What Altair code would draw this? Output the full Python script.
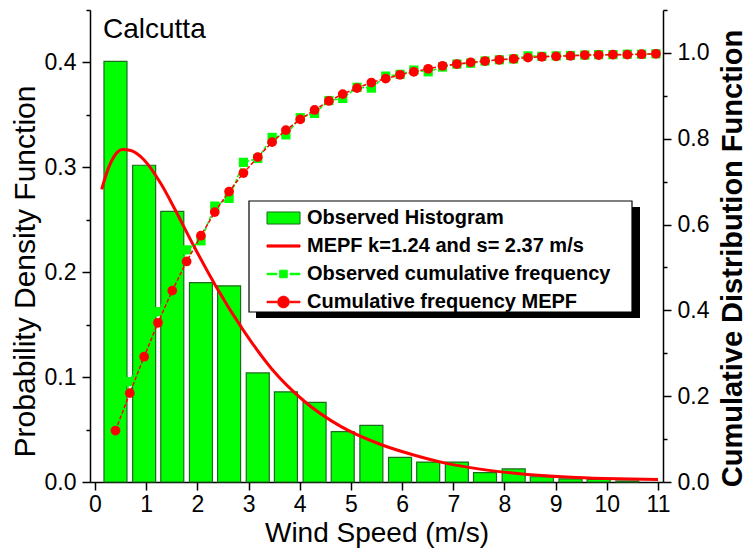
import altair as alt
import pandas as pd

# Observed wind-speed histogram (bin centres in m/s, probability density)
bin_centre = [0.40, 0.96, 1.51, 2.07, 2.62, 3.18, 3.73, 4.29, 4.84, 5.40,
              5.96, 6.51, 7.07, 7.62, 8.18, 8.73, 9.29, 9.84, 10.40]
density = [0.401, 0.302, 0.258, 0.190, 0.187, 0.104, 0.086, 0.076, 0.048, 0.054,
           0.0235, 0.019, 0.019, 0.009, 0.0125, 0.005, 0.003, 0.0025, 0.001]

# Fitted MEPF density curve
pdf_speed = [0.13, 0.26, 0.38, 0.54, 0.70, 0.96, 1.28, 1.54, 1.92, 2.37, 2.88,
             3.45, 4.09, 4.80, 5.57, 6.21, 6.85, 7.49, 8.45, 9.40, 10.20, 11.00]
pdf_value = [0.279, 0.299, 0.311, 0.317, 0.316, 0.307, 0.285, 0.262, 0.226, 0.186, 0.146,
             0.108, 0.077, 0.053, 0.036, 0.026, 0.018, 0.0125, 0.0072, 0.0043, 0.0031, 0.0025]

# Cumulative distribution: observed frequency and MEPF
cdf_speed = [0.40, 0.68, 0.96, 1.23, 1.51, 1.79, 2.07, 2.34, 2.62, 2.90,
             3.18, 3.46, 3.73, 4.01, 4.29, 4.57, 4.84, 5.12, 5.40, 5.68,
             5.96, 6.23, 6.51, 6.79, 7.07, 7.34, 7.62, 7.90, 8.18, 8.46,
             8.73, 9.01, 9.29, 9.57, 9.84, 10.12, 10.40, 10.68, 10.96]
cdf_observed = [0.120, 0.234, 0.310, 0.397, 0.460, 0.541, 0.562, 0.643, 0.661, 0.745,
                0.754, 0.803, 0.809, 0.849, 0.859, 0.889, 0.894, 0.920, 0.918, 0.946,
                0.950, 0.960, 0.956, 0.967, 0.974, 0.976, 0.981, 0.984, 0.986, 0.993,
                0.992, 0.993, 0.994, 0.995, 0.996, 0.996, 0.997, 0.997, 0.998]
cdf_mepf = [0.120, 0.207, 0.292, 0.371, 0.446, 0.514, 0.574, 0.629, 0.677, 0.720,
            0.757, 0.792, 0.820, 0.845, 0.867, 0.888, 0.904, 0.918, 0.931, 0.940,
            0.949, 0.956, 0.963, 0.970, 0.974, 0.978, 0.981, 0.984, 0.986, 0.989,
            0.991, 0.992, 0.993, 0.995, 0.995, 0.996, 0.996, 0.997, 0.998]

# Axis tick positions (majors labelled, halves as minor ticks)
x_ticks = [0, 0.5, 1, 1.5, 2, 2.5, 3, 3.5, 4, 4.5, 5, 5.5, 6, 6.5, 7, 7.5, 8, 8.5,
           9, 9.5, 10, 10.5, 11]
pdf_ticks = [0, 0.05, 0.1, 0.15, 0.2, 0.25, 0.3, 0.35, 0.4, 0.45]
cdf_ticks = [0, 0.1, 0.2, 0.3, 0.4, 0.5, 0.6, 0.7, 0.8, 0.9, 1.0, 1.1]

# Legend entries
series = ["Observed Histogram", "MEPF k=1.24 and s= 2.37 m/s",
          "Observed cumulative frequency", "\u00a0Cumulative frequency MEPF"]

FONT = "Liberation Sans"
GREEN = "#00ff00"
RED = "#ff0000"
BAR_EDGE = "#1d6b1d"

hist = pd.DataFrame({"speed": bin_centre, "density": density})
pdf = pd.DataFrame({"speed": pdf_speed, "pdf": pdf_value})
cdf = pd.DataFrame({"speed": cdf_speed, "observed": cdf_observed, "mepf": cdf_mepf})
legend_df = pd.DataFrame({"series": series})
one = pd.DataFrame({"k": [0]})

x_scale = alt.Scale(domain=[0, 11], nice=False, zero=False)


def tick_size(step_mult):
    return {"condition": {"test": f"round(datum.value*{step_mult}) % 2 == 0", "value": 8},
            "value": 4}


common_axis = dict(grid=False, domainColor="black", domainWidth=1.5, tickColor="black",
                   tickWidth=1.5, labelFont=FONT, labelFontSize=23, labelColor="black",
                   titleFont=FONT, titleColor="black", labelOverlap=False, labelFlush=False)

x_axis = alt.Axis(values=x_ticks, title="Wind Speed (m/s)",
                  labelExpr="round(datum.value*2) % 2 == 0 ? format(datum.value, 'd') : ''",
                  tickSize=tick_size(2), labelPadding=3, titleFontSize=28,
                  titleFontWeight="normal", titleY=59, titleBaseline="alphabetic",
                  **common_axis)

left_axis = alt.Axis(values=pdf_ticks, title="Probability Density Function",
                     labelExpr="round(datum.value*20) % 2 == 0 ? format(datum.value, '.1f') : ''",
                     tickSize=tick_size(20), labelPadding=6, titleFontSize=30,
                     titleFontWeight="normal", titleAngle=270, titleX=-65, titleY=261,
                     titleBaseline="middle", titleAlign="center", **common_axis)

right_axis = alt.Axis(values=cdf_ticks, orient="right", title="Cumulative Distribution Function",
                      labelExpr="round(datum.value*10) % 2 == 0 ? format(datum.value, '.1f') : ''",
                      tickSize=tick_size(10), labelPadding=6, titleFontSize=29,
                      titleFontWeight="bold", titleAngle=270, titleX=69, titleY=248,
                      titleBaseline="middle", titleAlign="center", **common_axis)

bars = alt.Chart(hist).mark_bar(size=23, fill=GREEN, stroke=BAR_EDGE, strokeWidth=1.2).encode(
    x=alt.X("speed:Q", scale=x_scale, axis=x_axis),
    y=alt.Y("density:Q", scale=alt.Scale(domain=[0, 0.45], nice=False), axis=left_axis),
)

pdf_line = alt.Chart(pdf).mark_line(color=RED, strokeWidth=3, interpolate="monotone").encode(
    x=alt.X("speed:Q", scale=x_scale),
    y=alt.Y("pdf:Q"),
)

left = alt.layer(bars, pdf_line)

cdf_y = alt.Scale(domain=[0, 1.1], nice=False)

obs_line = alt.Chart(cdf).mark_line(color=GREEN, strokeWidth=1.5, strokeDash=[4, 2]).encode(
    x=alt.X("speed:Q", scale=x_scale),
    y=alt.Y("observed:Q", scale=cdf_y, axis=right_axis),
)
obs_pts = alt.Chart(cdf).mark_point(shape="square", filled=True, color=GREEN, size=85,
                                    opacity=1).encode(
    x=alt.X("speed:Q", scale=x_scale),
    y=alt.Y("observed:Q"),
)
mepf_line = alt.Chart(cdf).mark_line(color=RED, strokeWidth=1.5, strokeDash=[4, 2]).encode(
    x=alt.X("speed:Q", scale=x_scale),
    y=alt.Y("mepf:Q"),
)
mepf_pts = alt.Chart(cdf).mark_circle(color=RED, size=95, opacity=1).encode(
    x=alt.X("speed:Q", scale=x_scale),
    y=alt.Y("mepf:Q"),
)

# Legend symbols: custom paths (unit = half the symbol size)
sym_bar = "M-1,-0.67H2.67V0.67H-1Z"
sym_line = "M-1,-0.12H2.67V0.12H-1Z"
sym_obs = "M-1,-0.08H0.1V0.08H-1Z M0.41,-0.42H1.25V0.42H0.41Z M1.56,-0.08H2.67V0.08H1.56Z"
sym_mepf = ("M-1,-0.08H0.1V0.08H-1Z M1.56,-0.08H2.67V0.08H1.56Z "
            "M0.18,0A0.65,0.65 0 1 0 1.48,0A0.65,0.65 0 1 0 0.18,0Z")

legend = alt.Legend(orient="none", legendX=176, legendY=198, title=None,
                    labelFont=FONT, labelFontSize=20, labelFontWeight="bold",
                    labelColor="black", labelOffset=21, labelLimit=500, rowPadding=8,
                    padding=0, symbolSize=324, symbolStrokeWidth=1, symbolOpacity=1)

legend_layer = alt.Chart(legend_df).mark_point(size=324, filled=True, opacity=0).encode(
    fill=alt.Fill("series:N", scale=alt.Scale(domain=series,
                                              range=[GREEN, RED, GREEN, RED]), legend=legend),
    stroke=alt.Stroke("series:N", scale=alt.Scale(domain=series,
                                                  range=[BAR_EDGE, RED, GREEN, RED]), legend=legend),
    shape=alt.Shape("series:N", scale=alt.Scale(domain=series,
                                                range=[sym_bar, sym_line, sym_obs, sym_mepf]),
                    legend=legend),
)

shadow = alt.Chart(one).mark_rect(color="black").encode(
    x=alt.value(166), x2=alt.value(550), y=alt.value(197), y2=alt.value(308))
frame = alt.Chart(one).mark_rect(fill="white", stroke="black", strokeWidth=1.2).encode(
    x=alt.value(159), x2=alt.value(542), y=alt.value(191), y2=alt.value(302))

city = alt.Chart(one).mark_text(text="Calcutta", align="left", baseline="middle",
                                font=FONT, fontSize=28, color="black").encode(
    x=alt.value(13), y=alt.value(20))

right = alt.layer(obs_line, obs_pts, mepf_line, mepf_pts, shadow, frame, legend_layer, city)

chart = alt.layer(left, right).resolve_scale(y="independent").properties(
    width=573, height=472,
    padding={"left": 90, "top": 10, "right": 84, "bottom": 72},
    autosize=alt.AutoSizeParams(type="none"),
    background="white",
).configure_view(stroke=None)

chart.save("out.html", embed_options={"renderer": "svg", "actions": False})
